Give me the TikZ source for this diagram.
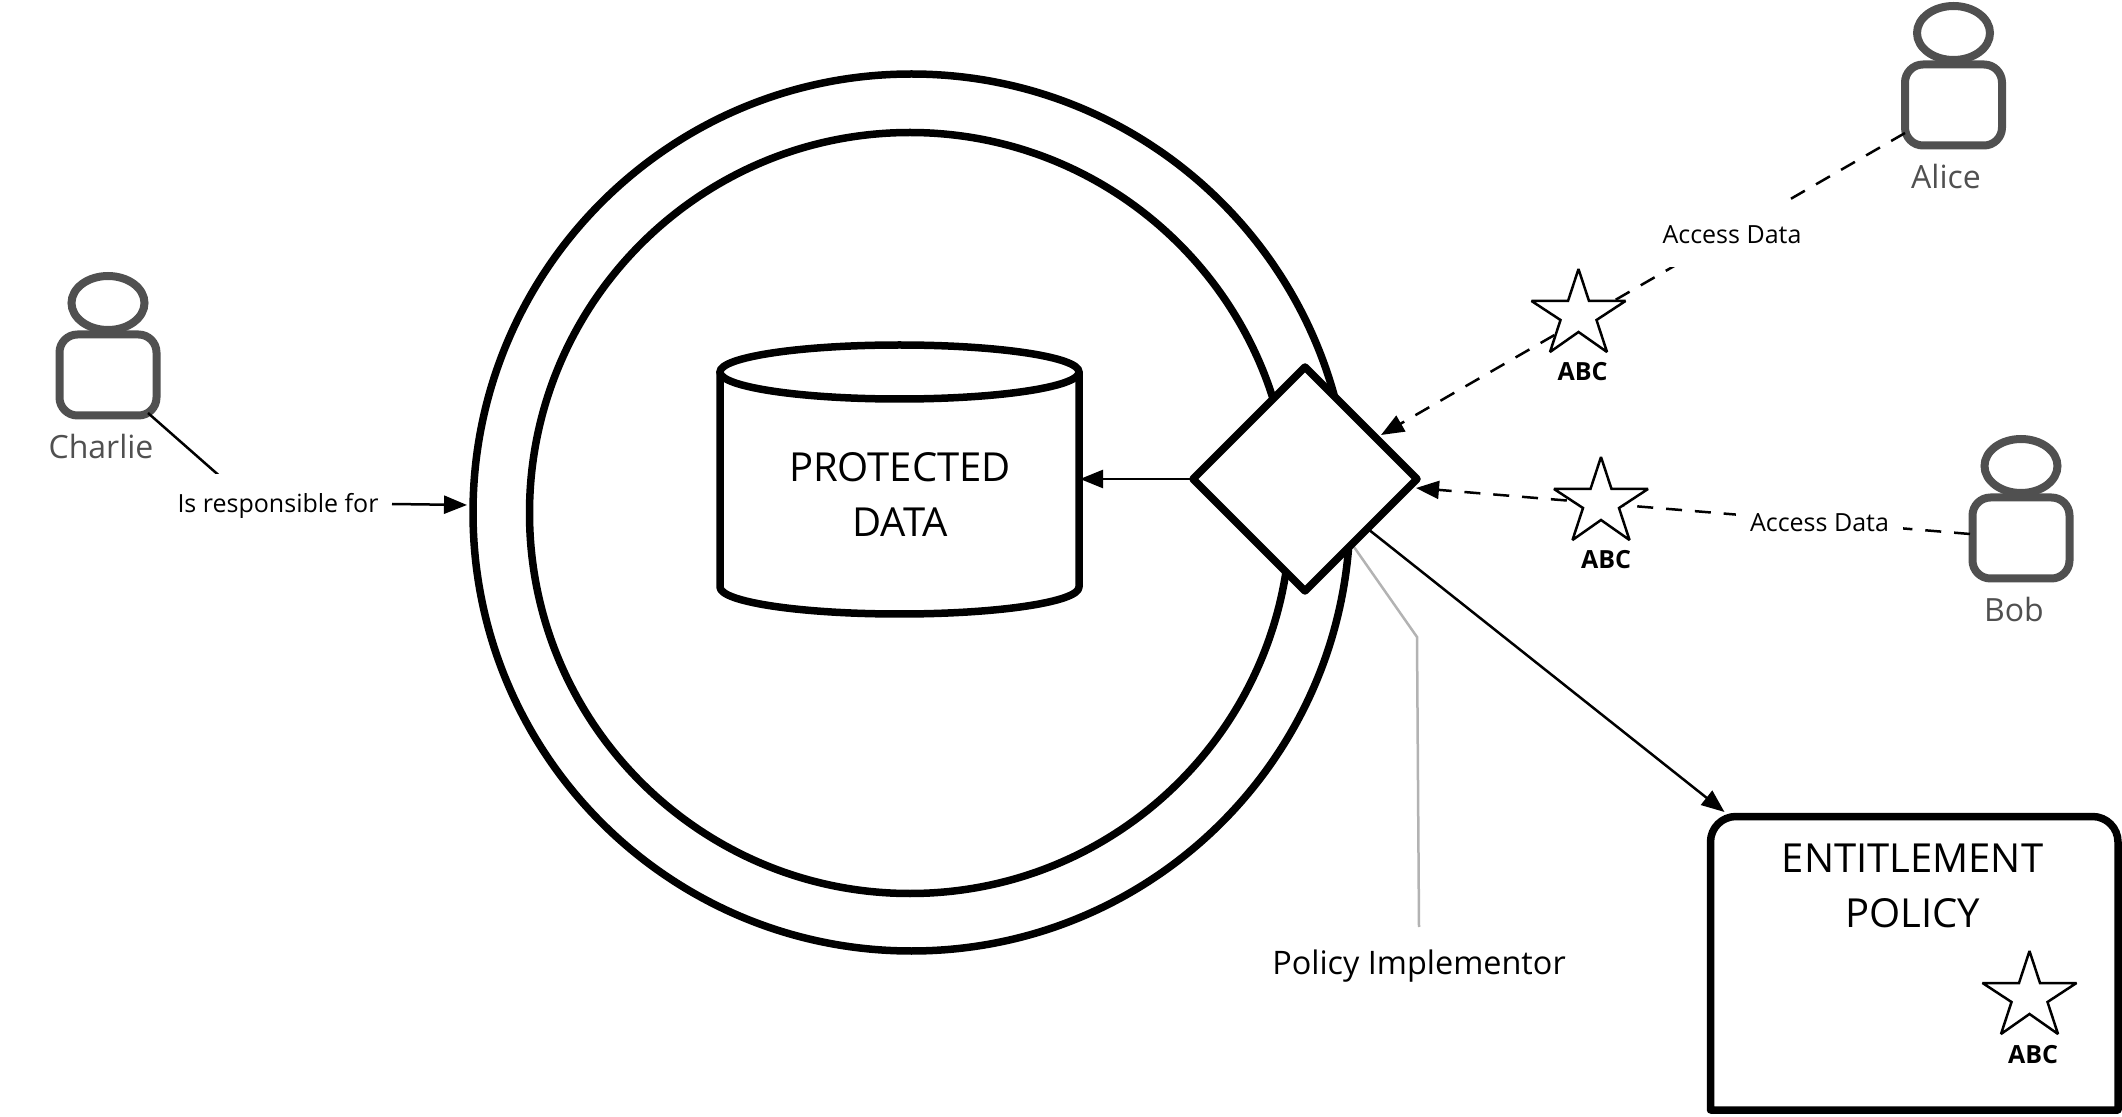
\documentclass[tikz,border=0pt]{standalone}
\usepackage{fontspec}
\setmainfont{Open Sans}
\usetikzlibrary{arrows.meta,shapes.geometric}
\definecolor{persongray}{HTML}{505050}
\definecolor{leadgray}{HTML}{B3B3B3}
\tikzset{
  thick ring/.style={draw=black,line width=3.75pt,fill=white,shape=circle,inner sep=0pt,outer sep=0pt},
  bodyshape/.style={draw=persongray,fill=white,line width=4pt,rectangle,rounded corners=9pt,minimum width=48.5pt,minimum height=40.5pt,inner sep=0pt,outer sep=0pt},
  headshape/.style={draw=persongray,fill=white,line width=4pt,ellipse,minimum width=36.5pt,minimum height=27pt,inner sep=0pt,outer sep=0pt},
  persontext/.style={text=persongray,font=\fontsize{16}{18}\selectfont,inner sep=0pt,anchor=base},
  edgelabel/.style={fill=white,font=\fontsize{12.5}{15}\selectfont,inner xsep=7pt,inner ysep=0pt,minimum height=32pt,outer sep=0pt},
  bigtext/.style={font=\fontsize{20}{24}\selectfont,inner sep=0pt,anchor=base},
  connector/.style={line width=1.25pt,-{Triangle[length=11.5pt,width=9pt]}},
  dashedconn/.style={connector,dash pattern=on 8pt off 6.45pt},
}
\newcommand{\personfig}[5]{%
  % name, dx, dy, label, label x offset
  \node[bodyshape] (#1body) at (#2,#3+105) {};
  \node[headshape] (#1head) at (#2,#3+33) {};
  \node[persontext] (#1text) at (#2+#5,#3+189) {#4};
}
\newcommand{\abcstar}[4]{%
  \draw[fill=white,line width=1.25pt,line join=miter,miter limit=3,shift={(#2,#3)}]
    (0,0) -- (10.5,32) -- (47,32) -- (18,51) -- (28.5,83) -- (0,63)
    -- (-28.5,83) -- (-18,51) -- (-47,32) -- (-10.5,32) -- cycle;
  \node[font=\fontsize{12.5}{15}\bfseries,inner sep=0pt,anchor=base] (#1) at (#2+#4,#3+112) {ABC};
}
\begin{document}
\begin{tikzpicture}[x=0.5pt,y=-0.5pt]
\useasboundingbox (0,0) rectangle (2122,1117);
% rings
\node[thick ring,minimum size=438.5pt] (outerring) at (911.5,512.5) {};
\node[thick ring,minimum size=380.5pt] (innerring) at (910,513) {};
% cylinder
\draw[line width=3.75pt,fill=white,line join=round] (720,372) -- (720,587) arc[start angle=180,end angle=0,x radius=179.5,y radius=27] -- (1079,372);
\draw[line width=3.75pt,fill=white] (899.5,372) ellipse[x radius=179.5,y radius=27];
\node[bigtext] (prot1) at (900,482) {PROTECTED};
\node[bigtext] (prot2) at (900,537) {DATA};
% policy box
\draw[line width=3.75pt,fill=white,line join=round]
  (1710.5,1110) -- (1710.5,842) arc[start angle=180,end angle=270,radius=25.5] -- (2092.5,816.5)
  arc[start angle=270,end angle=360,radius=25.5] -- (2118,1110) -- cycle;
\node[bigtext] (ent1) at (1912.5,872) {ENTITLEMENT};
\node[bigtext] (ent2) at (1912.5,927) {POLICY};
% persons
\personfig{alice}{1953.5}{0}{Alice}{-7.5}
\personfig{bob}{2021}{433}{Bob}{-7}
\personfig{charlie}{108}{270}{Charlie}{-7}
% free end coordinates
\coordinate (aliceout) at (1905,133);
\coordinate (aliceend) at (1381,435);
\coordinate (bobout) at (1970,534);
\coordinate (bobend) at (1416,488);
\coordinate (charlieout) at (148,413);
\coordinate (charliemid) at (248,501);
\coordinate (ringin) at (467,505);
\coordinate (policytip) at (1724.5,812);
\coordinate (cyltip) at (1080,479);
\coordinate (leadstart) at (1354,547);
\coordinate (leadbend) at (1417,637);
\coordinate (leadend) at (1419,927);
% diamond reference point
\node[draw=none,inner sep=0pt,minimum size=0pt] (dcentre) at (1305,479) {};
% connectors under diamond
\draw[connector] (dcentre) -- (policytip);
\draw[connector] (dcentre) -- (cyltip);
\draw[line width=1.25pt,leadgray] (leadstart) -- (leadbend) -- (leadend);
\draw[line width=1.25pt] (charlieout) -- (charliemid);
\draw[dashedconn] (aliceout) -- (aliceend);
\draw[dashedconn] (bobout) -- (bobend);
% diamond
\node[draw,fill=white,shape=diamond,aspect=1,line width=3.75pt,line join=round,minimum width=112pt,minimum height=112pt,inner sep=0pt,outer sep=0pt] (gate) at (1305,479) {};
% labels
\node[edgelabel] (lblalice) at (1732,235) {Access Data};
\node[edgelabel] (lblbob) at (1819.5,523) {Access Data};
\node[edgelabel] (lblcharlie) at (278,506) {Is responsible for};
\coordinate (lblout) at (392,504);
\draw[connector] (lblout) -- (ringin);
\node[font=\fontsize{16.2}{18}\selectfont,inner sep=0pt] (implementor) at (1419,966) {Policy Implementor};
% stars
\abcstar{abcone}{1578.5}{269}{4}
\abcstar{abctwo}{1601}{457}{5}
\abcstar{abcthree}{2029.5}{951}{3.5}
\end{tikzpicture}
\end{document}
